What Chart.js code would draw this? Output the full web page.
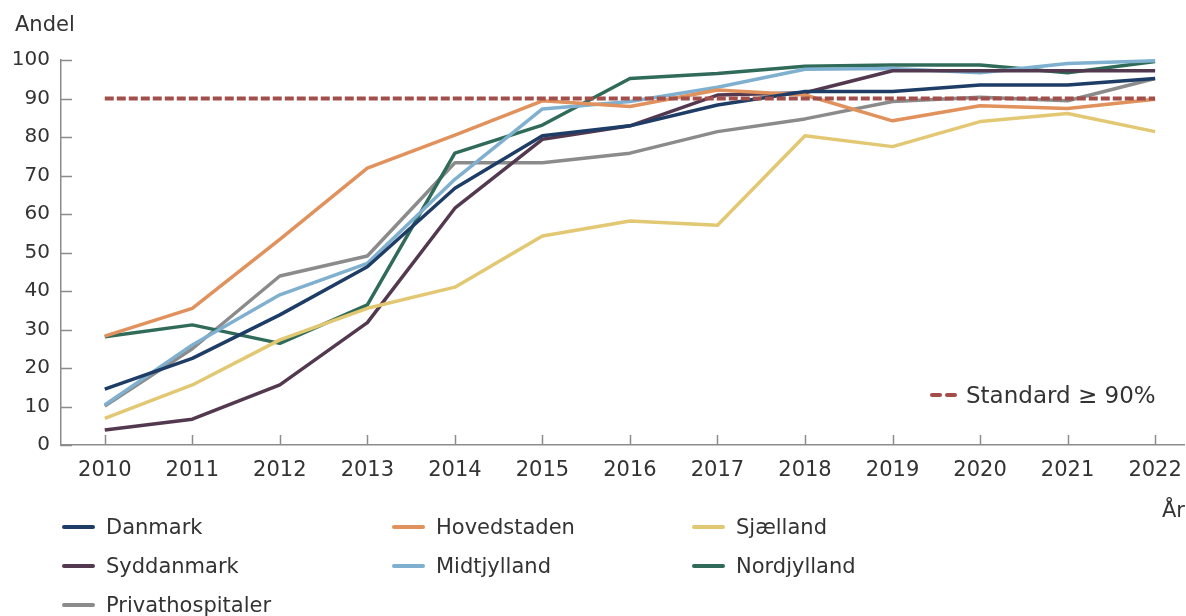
<!DOCTYPE html>
<html lang="da">
<head>
<meta charset="UTF-8">
<title>Andel</title>
<script src="https://cdn.jsdelivr.net/npm/chart.js"></script>
<style>
  body { margin: 0; background: #fff; }
  #wrap { position: relative; width: 1186px; height: 616px; overflow: hidden; font-family: "DejaVu Sans", sans-serif; color: #333; }
  #chart { position: absolute; left: 0; top: 0; }
  .txt { position: absolute; font-size: 21px; line-height: 24px; white-space: nowrap; }
  .leg { position: absolute; display: flex; align-items: center; font-size: 21px; line-height: 24px; white-space: nowrap; }
  .leg i { display: inline-block; width: 33px; height: 4px; border-radius: 2px; margin-right: 11px; }
  .std i { display: inline-block; width: 12px; height: 4px; border-radius: 2px; margin-right: 3px; background: #a24f4c; }
</style>
</head>
<body>
<div id="wrap">
  <canvas id="chart" width="1186" height="616"></canvas>
  <div class="txt" style="left:15px; top:12px;">Andel</div>
  <div class="txt" style="left:1162px; top:498px;">År</div>
  <div class="leg std" style="left:930px; top:382px; font-size:23px; line-height:26px;"><i></i><i style="margin-right:9px"></i>Standard ≥ 90%</div>
  <div id="legend"></div>
</div>
<script>
  // data
  var years = [2010, 2011, 2012, 2013, 2014, 2015, 2016, 2017, 2018, 2019, 2020, 2021, 2022];
  var danmark = [14.5, 22.5, 33.8, 46.3, 66.7, 80.3, 82.9, 88.3, 91.8, 91.8, 93.5, 93.5, 95.2];
  var hovedstaden = [28.3, 35.5, 53.4, 71.9, 80.5, 89.4, 87.9, 92.2, 90.9, 84.2, 88.1, 87.4, 89.8];
  var sjaelland = [6.9, 15.6, 27.3, 35.5, 41.0, 54.3, 58.2, 57.1, 80.3, 77.5, 84.0, 86.1, 81.4];
  var syddanmark = [3.9, 6.7, 15.6, 31.8, 61.5, 79.4, 82.9, 90.9, 91.5, 97.2, 97.2, 97.2, 97.2];
  var midtjylland = [10.4, 26.0, 39.0, 47.2, 69.0, 87.3, 89.2, 92.9, 97.6, 97.8, 96.7, 99.1, 99.8];
  var nordjylland = [28.1, 31.2, 26.4, 36.4, 75.8, 83.1, 95.2, 96.5, 98.4, 98.7, 98.7, 96.7, 99.6];
  var privathospitaler = [10.1, 25.0, 43.9, 49.1, 73.3, 73.3, 75.8, 81.4, 84.7, 89.2, 90.3, 89.4, 95.2];
  var standard = [90, 90, 90, 90, 90, 90, 90, 90, 90, 90, 90, 90, 90];
  var yTicks = [0, 10, 20, 30, 40, 50, 60, 70, 80, 90, 100];

  var series = [
    { name: 'Danmark', values: danmark, color: '#1e3d66' },
    { name: 'Hovedstaden', values: hovedstaden, color: '#e0915c' },
    { name: 'Sjælland', values: sjaelland, color: '#e3c873' },
    { name: 'Syddanmark', values: syddanmark, color: '#53394f' },
    { name: 'Midtjylland', values: midtjylland, color: '#7fb0cf' },
    { name: 'Nordjylland', values: nordjylland, color: '#2f6b58' },
    { name: 'Privathospitaler', values: privathospitaler, color: '#8b8b8b' }
  ];

  function pts(arr) {
    return years.map(function (y, i) { return { x: y, y: arr[i] }; });
  }

  var datasets = [{
    label: 'Standard ≥ 90%',
    data: pts(standard),
    borderColor: '#a24f4c',
    borderWidth: 4,
    borderDash: [9, 3],
    pointRadius: 0,
    clip: false
  }];
  series.forEach(function (s) {
    datasets.push({
      label: s.name,
      data: pts(s.values),
      borderColor: s.color,
      borderWidth: 3.5,
      borderJoinStyle: 'round',
      pointRadius: 0,
      tension: 0,
      clip: false
    });
  });

  // small tick marks pointing into the plot
  var innerTicks = {
    id: 'innerTicks',
    beforeDatasetsDraw: function (chart) {
      var ctx = chart.ctx, area = chart.chartArea, sx = chart.scales.x, sy = chart.scales.y;
      ctx.save();
      ctx.strokeStyle = '#8c8c8c';
      ctx.lineWidth = 1.5;
      ctx.beginPath();
      sy.ticks.forEach(function (t) {
        var py = Math.round(sy.getPixelForValue(t.value)) + 0.5;
        ctx.moveTo(area.left, py);
        ctx.lineTo(area.left + 11, py);
      });
      sx.ticks.forEach(function (t) {
        var px = Math.round(sx.getPixelForValue(t.value)) + 0.5;
        ctx.moveTo(px, area.bottom);
        ctx.lineTo(px, area.bottom - 10);
      });
      ctx.stroke();
      ctx.restore();
    }
  };

  Chart.defaults.font.family = '"DejaVu Sans", sans-serif';
  Chart.defaults.font.size = 21;
  Chart.defaults.color = '#333';

  new Chart(document.getElementById('chart'), {
    type: 'line',
    data: { datasets: datasets },
    options: {
      responsive: false,
      animation: false,
      devicePixelRatio: 1,
      layout: { padding: { top: 60, left: 0, right: 2, bottom: 0 } },
      plugins: { legend: { display: false }, tooltip: { enabled: false } },
      scales: {
        x: {
          type: 'linear',
          min: 2009.5,
          max: 2022.33,
          afterFit: function (s) { s.height = 171; s.paddingLeft = 0; s.paddingRight = 0; },
          afterBuildTicks: function (s) { s.ticks = years.map(function (v) { return { value: v }; }); },
          grid: { display: true, drawOnChartArea: false, drawTicks: false },
          border: { display: true, color: '#8c8c8c', width: 1.5 },
          ticks: { autoSkip: false, maxRotation: 0, padding: 13, callback: function (v) { return String(v); } }
        },
        y: {
          min: 0,
          max: 100,
          afterFit: function (s) { s.width = 61; },
          afterBuildTicks: function (s) { s.ticks = yTicks.map(function (v) { return { value: v }; }); },
          grid: { display: true, drawOnChartArea: false, drawTicks: false },
          border: { display: true, color: '#8c8c8c', width: 1.5 },
          ticks: { padding: 11, font: { size: 20 } }
        }
      }
    },
    plugins: [innerTicks]
  });

  // legend below the chart, three columns
  var legendPos = [[62, 515], [392, 515], [692, 515], [62, 554], [392, 554], [692, 554], [62, 593]];
  var legend = document.getElementById('legend');
  series.forEach(function (s, i) {
    var d = document.createElement('div');
    d.className = 'leg';
    d.style.left = legendPos[i][0] + 'px';
    d.style.top = legendPos[i][1] + 'px';
    d.innerHTML = '<i style="background:' + s.color + '"></i>' + s.name;
    legend.appendChild(d);
  });
</script>
</body>
</html>
